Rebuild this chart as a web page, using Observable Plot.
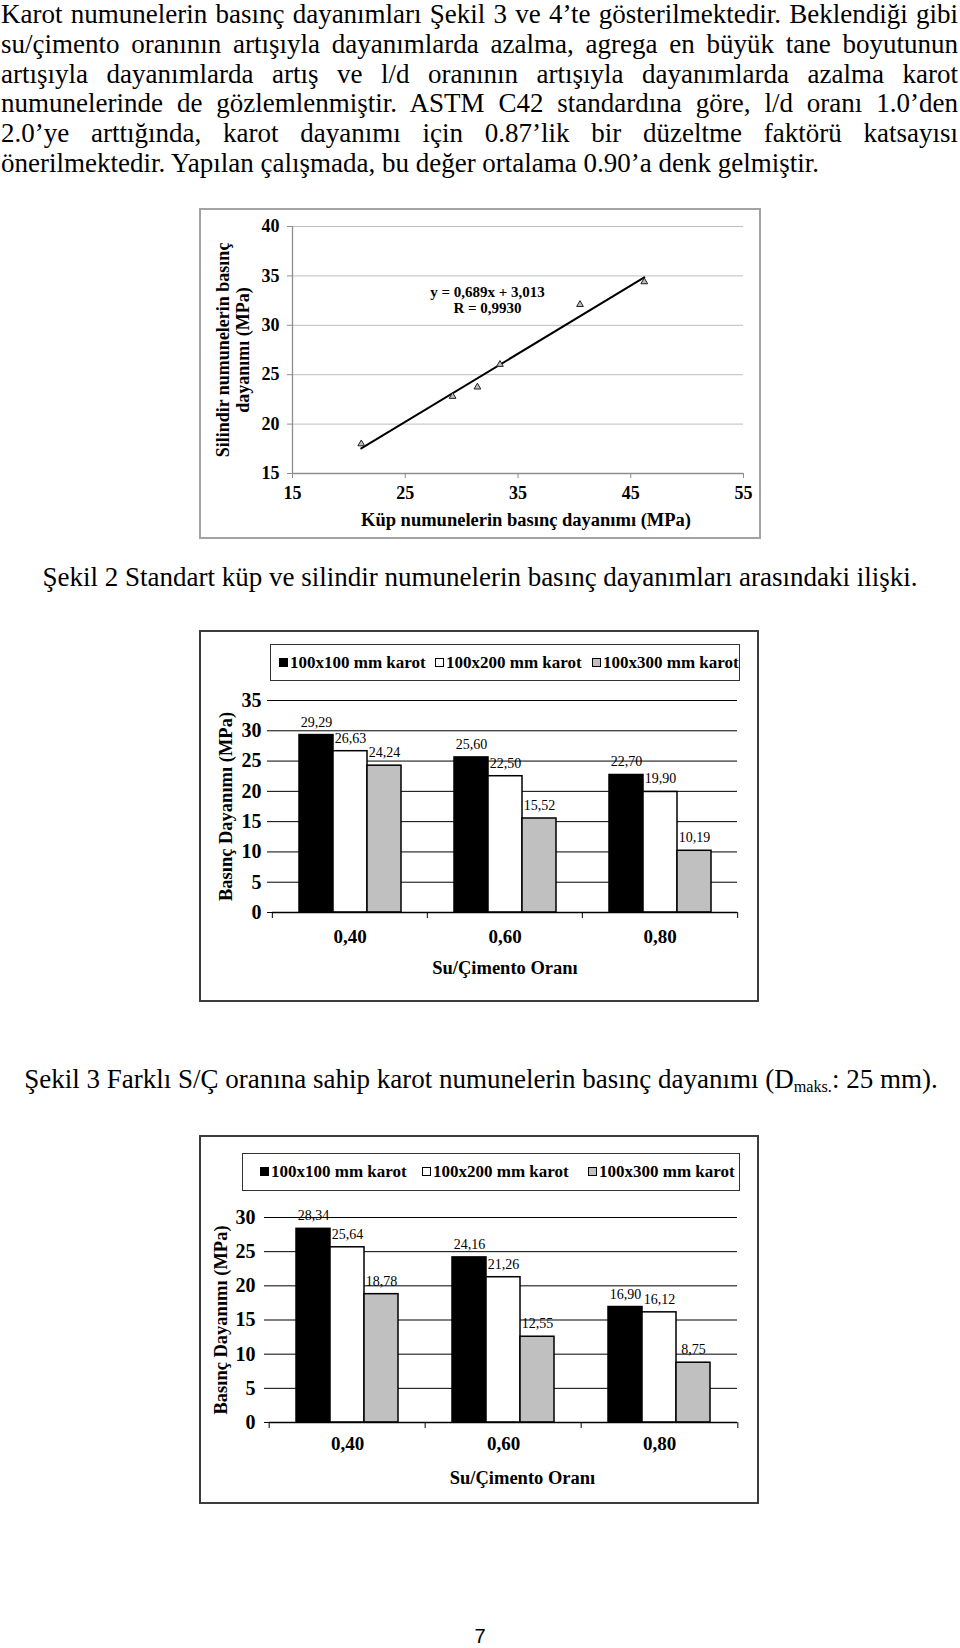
<!DOCTYPE html>
<html lang="tr">
<head>
<meta charset="utf-8">
<script src="https://cdn.jsdelivr.net/npm/d3@7"></script>
<script src="https://cdn.jsdelivr.net/npm/@observablehq/plot@0.6"></script>
<style>
html,body{margin:0;padding:0;background:#fff;}
#page{position:relative;width:960px;height:1648px;overflow:hidden;font-family:"Liberation Serif","Times New Roman",serif;color:#000;}
.abs{position:absolute;}
.line{font-size:27px;line-height:30px;text-align:justify;text-align-last:justify;}
.line.last{text-align-last:left;}
.caption{font-size:27px;line-height:30px;text-align:center;white-space:nowrap;}
.caption sub{font-size:0.6em;vertical-align:-0.25em;line-height:0;}
.frame{box-sizing:border-box;}
.legend{box-sizing:border-box;border:1px solid #333;background:#fff;font-weight:bold;font-size:17px;}
.sw{position:absolute;width:9px;height:9px;box-sizing:border-box;border:1px solid #000;}
.lt{position:absolute;white-space:nowrap;line-height:20px;}
.pnum{font-family:"Liberation Sans","DejaVu Sans",sans-serif;font-size:20px;line-height:24px;text-align:center;width:960px;}
.chart svg{display:block;max-width:none;}
</style>
</head>
<body>
<div id="page"></div>
<script>
// ---------- text ----------
const paragraphLines = [
  "Karot numunelerin basınç dayanımları Şekil 3 ve 4’te gösterilmektedir. Beklendiği gibi",
  "su/çimento oranının artışıyla dayanımlarda azalma, agrega en büyük tane boyutunun",
  "artışıyla dayanımlarda artış ve l/d oranının artışıyla dayanımlarda azalma karot",
  "numunelerinde de gözlemlenmiştir. ASTM C42 standardına göre,  l/d oranı 1.0’den",
  "2.0’ye arttığında, karot dayanımı için 0.87’lik bir düzeltme faktörü katsayısı",
  "önerilmektedir. Yapılan çalışmada, bu değer ortalama 0.90’a denk gelmiştir."
];
const caption2 = "Şekil 2 Standart küp ve silindir numunelerin basınç dayanımları arasındaki ilişki.";
const caption3 = ["Şekil 3 Farklı S/Ç oranına sahip karot numunelerin basınç dayanımı (D", "maks.", ": 25 mm)."];
const pageNumber = "7";

// ---------- Şekil 2: scatter ----------
const cubeStrength     = [21.1, 29.2, 31.4, 33.4, 40.5, 46.2];
const cylinderStrength = [18.0, 22.8, 23.75, 26.04, 32.1, 34.4];
const fig2XTicks = [15, 25, 35, 45, 55];
const fig2YTicks = [15, 20, 25, 30, 35, 40];
const fig2FitText = ["y = 0,689x + 3,013", "R = 0,9930"];
const fig2FitAt = [32.3, 32.6];
const fig2XTitle = "Küp numunelerin basınç dayanımı (MPa)";
const fig2YTitle = ["Silindir numunelerin basınç", "dayanımı (MPa)"];

// ---------- bar charts ----------
const wcRatios  = ["0,40", "0,60", "0,80"];
const coreSizes = ["100x100 mm karot", "100x200 mm karot", "100x300 mm karot"];
const coreColors = ["#000000", "#ffffff", "#c0c0c0"];
// upper bar chart
const barA_100x100 = [29.29, 25.60, 22.70];
const barA_100x200 = [26.63, 22.50, 19.90];
const barA_100x300 = [24.24, 15.52, 10.19];
const barAYTicks = [0, 5, 10, 15, 20, 25, 30, 35];
// lower bar chart
const barB_100x100 = [28.34, 24.16, 16.90];
const barB_100x200 = [25.64, 21.26, 16.12];
const barB_100x300 = [18.78, 12.55, 8.75];
const barBYTicks = [0, 5, 10, 15, 20, 25, 30];
const barYTitle = "Basınç Dayanımı (MPa)";
const barXTitle = "Su/Çimento Oranı";

// ---------- layout helpers ----------
const page = document.getElementById("page");
const SERIF = "'Liberation Serif','Times New Roman',serif";
function put(el, left, top, cls) {
  el.className = "abs" + (cls ? " " + cls : "");
  el.style.left = left + "px";
  el.style.top = top + "px";
  page.appendChild(el);
  return el;
}
function putChart(svg, left, top) {
  const w = document.createElement("div");
  w.appendChild(svg);
  put(w, left, top, "chart");
}

// paragraph
paragraphLines.forEach((t, i) => {
  const d = document.createElement("div");
  d.textContent = t;
  d.style.width = "957px";
  put(d, 1, -1 + i * 29.8, "line" + (i === paragraphLines.length - 1 ? " last" : ""));
});

// frames
function frame(left, top, w, h, color) {
  const f = document.createElement("div");
  f.style.width = w + "px"; f.style.height = h + "px";
  f.style.border = "2px solid " + color;
  put(f, left, top, "frame");
}
frame(199, 208, 562, 331, "#a3a3a3");
frame(199, 630, 560, 372, "#3c3c3c");
frame(199, 1135, 560, 369, "#3c3c3c");

// captions
const c2 = document.createElement("div"); c2.textContent = caption2; c2.style.width = "960px";
put(c2, 0, 562, "caption");
const c3 = document.createElement("div");
c3.append(caption3[0]);
const sub = document.createElement("sub"); sub.textContent = caption3[1]; c3.append(sub);
c3.append(caption3[2]);
c3.style.width = "960px";
put(c3, 1, 1064, "caption");
const pn = document.createElement("div"); pn.textContent = pageNumber;
put(pn, 0, 1624, "pnum");

// ---------- Şekil 2 chart ----------
const pts = cubeStrength.map((x, i) => ({x, y: cylinderStrength[i]}));
const fig2 = Plot.plot({
  width: 560, height: 329,
  marginLeft: 92, marginRight: 17, marginTop: 17, marginBottom: 65,
  style: {fontFamily: SERIF, fontSize: "18px", fontWeight: "bold", color: "#000", background: "transparent", overflow: "visible"},
  x: {domain: [15, 55]},
  y: {domain: [15, 40]},
  marks: [
    Plot.gridY(fig2YTicks.slice(1), {stroke: "#bdbdbd", strokeOpacity: 1}),
    Plot.ruleY([15], {stroke: "#8e8e8e", strokeWidth: 1.3}),
    Plot.ruleX([15], {stroke: "#8e8e8e", strokeWidth: 1.3}),
    Plot.axisY(fig2YTicks, {tickSize: 5, tickPadding: 8, stroke: "#8e8e8e", label: null}),
    Plot.axisX(fig2XTicks, {tickSize: 5, tickPadding: 8, stroke: "#8e8e8e", label: null}),
    Plot.linearRegressionY(pts, {x: "x", y: "y", ci: 0, stroke: "#000", strokeWidth: 2}),
    Plot.dot(pts, {x: "x", y: "y", symbol: "triangle", r: 2.5, stroke: "#222", strokeWidth: 1, fill: "#bdbdbd"}),
    Plot.text([{x: fig2FitAt[0], y: fig2FitAt[1], t: fig2FitText.join("\n")}],
      {x: "x", y: "y", text: "t", fontSize: 15, lineHeight: 1.07}),
    Plot.text([fig2YTitle.join("\n")], {frameAnchor: "left", textAnchor: "middle", lineAnchor: "middle",
      rotate: -90, dx: -60, lineHeight: 1.12, fontSize: 18}),
    Plot.text([fig2XTitle], {frameAnchor: "bottom", textAnchor: "middle", lineAnchor: "middle",
      dy: 47, dx: 8, fontSize: 18.5})
  ]
});
putChart(fig2, 200, 209);

// ---------- bar chart builder ----------
function barChart(cfg) {
  const {series, yTicks, left, top, width, height, ml, mr, mt, mb, yPad, fxPad, xTitleDx, xTitleDy, yTitleDx} = cfg;
  const data = [];
  wcRatios.forEach((r, i) => coreSizes.forEach((s, j) => data.push({ratio: r, size: s, value: series[j][i]})));
  const fw = (width - ml - mr) / wcRatios.length;
  const fmt = v => d3.format(".2f")(v).replace(".", ",");
  const svg = Plot.plot({
    width, height, marginLeft: ml, marginRight: mr, marginTop: mt, marginBottom: mb,
    style: {fontFamily: SERIF, fontSize: "19px", fontWeight: "bold", color: "#000", background: "transparent", overflow: "visible"},
    fx: {domain: wcRatios, padding: 0, label: null},
    x: {domain: coreSizes, axis: null, paddingInner: 0, paddingOuter: 0.76},
    y: {domain: [0, d3.max(yTicks)], label: null},
    color: {domain: coreSizes, range: coreColors},
    marks: [
      Plot.gridY(yTicks.slice(1), {stroke: "#000", strokeOpacity: 1, strokeWidth: 1}),
      Plot.axisY(yTicks, {tickSize: 5, tickPadding: yPad, fontSize: 20, label: null, stroke: "#000"}),
      Plot.axisFx({anchor: "bottom", tickSize: 0, tickPadding: fxPad, fontSize: 19, label: null}),
      Plot.barY(data, {fx: "ratio", x: "size", y: "value", fill: "size", stroke: "#000", strokeWidth: 1.5}),
      Plot.ruleY([0], {stroke: "#000", strokeWidth: 1.5}),
      Plot.ruleX(wcRatios, {fx: d => d, x: null, y1: 0, y2: 0, insetBottom: -6, dx: -fw / 2, stroke: "#000"}),
      Plot.ruleX(wcRatios.slice(-1), {fx: d => d, x: null, y1: 0, y2: 0, insetBottom: -6, dx: fw / 2, stroke: "#000"}),
      Plot.text(data, {fx: "ratio", x: "size", y: "value", text: d => fmt(d.value), dy: -13, fontSize: 14, fontWeight: "normal"}),
      Plot.text([barXTitle], {fx: () => wcRatios[1], frameAnchor: "bottom", textAnchor: "middle", lineAnchor: "middle",
        dy: xTitleDy, dx: xTitleDx, fontSize: 18.5}),
      Plot.text([barYTitle], {fx: () => wcRatios[0], frameAnchor: "left", textAnchor: "middle", lineAnchor: "middle",
        rotate: -90, dx: yTitleDx, fontSize: 18.5})
    ]
  });
  putChart(svg, left, top);
}
function legend(left, top, w, h, itemLefts, textY) {
  const box = document.createElement("div");
  box.style.width = w + "px"; box.style.height = h + "px";
  put(box, left, top, "legend");
  coreSizes.forEach((name, i) => {
    const sw = document.createElement("div");
    sw.style.background = coreColors[i];
    put(sw, itemLefts[i], textY - 5, "sw");
    const t = document.createElement("div");
    t.textContent = name;
    t.style.fontWeight = "bold"; t.style.fontSize = "17px";
    put(t, itemLefts[i] + 11, textY - 10, "lt");
  });
}

barChart({series: [barA_100x100, barA_100x200, barA_100x300], yTicks: barAYTicks,
  left: 201, top: 632, width: 556, height: 368, ml: 70, mr: 20, mt: 68, mb: 88,
  yPad: 6, fxPad: 17, xTitleDx: 0, xTitleDy: 56, yTitleDx: -46});
legend(270, 644, 470, 37, [279, 435, 592], 663);

barChart({series: [barB_100x100, barB_100x200, barB_100x300], yTicks: barBYTicks,
  left: 201, top: 1137, width: 556, height: 365, ml: 67, mr: 19, mt: 80, mb: 80,
  yPad: 9, fxPad: 14, xTitleDx: 19, xTitleDy: 56, yTitleDx: -48});
legend(242, 1153, 498, 38, [260, 422, 588], 1172);
</script>
</body>
</html>
